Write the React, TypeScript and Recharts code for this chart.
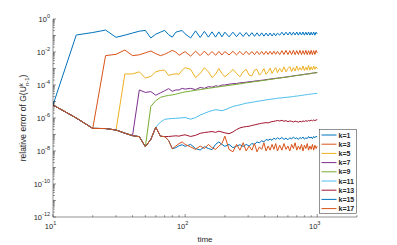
import React from 'react';
import { LineChart, Line, XAxis, YAxis, Legend } from 'recharts';

// sample times (x)
const times = [
  10, 15, 20, 25, 30, 35, 40, 45, 50, 55, 60, 65, 70, 75, 80, 85, 90, 95, 100,
  110, 120, 130, 140, 150, 160, 170, 180, 190, 200,
  215, 230, 245, 260, 275, 290, 305, 320, 335, 350, 365, 380, 395, 410, 425, 440, 455, 470, 485, 500,
  520, 540, 560, 580, 600, 620, 640, 660, 680, 700, 720, 740, 760, 780, 800, 820, 840, 860, 880, 900, 920, 940, 960, 980, 1000,
];

// log10 of the error
// early part that all k share before each one jumps up
const basePath = [-5.21, -6.0, -6.63, -6.64, -6.73, -6.92, -7.07, -7.13, -7.74, -7.3, -6.55, -7.1, -7.13];

const k1Log = [
  ...basePath.slice(0, 1),
  -0.97, -0.82, -0.67, -1.11, -0.98, -0.85, -0.74, -0.69, -1.15, -0.92, -0.8, -0.69, -0.95, -1.1, -0.8, -0.74, -0.7, -0.9,
  -1.15, -0.72, -1.12, -0.75, -1.1, -0.78, -1.1, -0.78, -1.08, -0.8,
  -1.08, -0.8, -1.07, -0.82, -1.06, -0.82, -1.05, -0.83, -1.05, -0.84, -1.04, -0.84, -1.04, -0.85, -1.03, -0.85, -1.03, -0.86, -1.02, -0.86,
  -0.98, -0.8, -0.98, -0.8, -0.97, -0.79, -0.98, -0.8, -0.97, -0.79, -0.98, -0.8, -0.97, -0.79, -0.98, -0.8, -0.97, -0.79, -0.98, -0.8, -0.97, -0.79, -0.98, -0.8, -0.9,
];
const k3Log = [
  ...basePath.slice(0, 3),
  -2.22, -2.14, -1.88, -2.22, -2.17, -2.05, -1.94, -2.1, -2.22, -2.14, -2.02, -1.9, -2.0, -2.2, -2.08, -1.98,
  -2.25, -1.95, -2.22, -1.95, -2.2, -1.97, -2.2, -1.97, -2.18, -1.97,
  -2.18, -1.96, -2.17, -1.97, -2.17, -1.96, -2.16, -1.97, -2.16, -1.96, -2.15, -1.97, -2.15, -1.96, -2.15, -1.96, -2.14, -1.96, -2.14, -1.96,
  -2.16, -1.92, -2.15, -1.9, -2.16, -1.92, -2.15, -1.9, -2.16, -1.92, -2.15, -1.9, -2.16, -1.92, -2.15, -1.9, -2.16, -1.92, -2.15, -1.9, -2.16, -1.92, -2.15, -1.9, -2.05,
];
const k5Log = [
  ...basePath.slice(0, 5),
  -3.33, -3.33, -3.2, -3.58, -3.48, -3.2, -3.12, -3.1, -3.42, -3.36, -3.32, -3.35, -3.1, -2.95,
  -3.05, -3.55, -3.3, -2.95, -3.2, -3.55, -3.35, -3.0, -3.3, -3.5,
  -3.3, -3.05, -3.3, -3.5, -3.2, -3.05, -3.4, -3.45, -3.1, -3.05, -3.4, -3.25, -3.0, -3.35, -3.2, -2.98, -3.3, -3.1, -2.95, -3.25,
  -3.0, -3.22, -2.9, -3.2, -3.0, -2.88, -3.18, -2.95, -3.15, -2.85, -3.12, -2.95, -3.1, -2.85, -3.12, -2.92, -3.1, -2.82, -3.1, -2.9, -3.08, -2.85, -3.05, -2.9, -3.0,
];
const k7Log = [
  ...basePath.slice(0, 7),
  -4.3, -4.45, -4.4, -4.62, -4.48, -4.35, -4.22, -4.38, -4.3, -4.3, -4.2, -4.25,
  -4.2, -4.28, -4.15, -4.2, -4.1, -4.13, -4.05, -4.08, -4.0, -4.0,
  -3.95, -3.92, -3.91, -3.87, -3.85, -3.83, -3.8, -3.79, -3.76, -3.75, -3.73, -3.71, -3.7, -3.67, -3.66, -3.64, -3.62, -3.61, -3.6, -3.58,
  -3.57, -3.55, -3.53, -3.52, -3.5, -3.48, -3.47, -3.45, -3.43, -3.42, -3.41, -3.39, -3.38, -3.37, -3.35, -3.34, -3.33, -3.32, -3.31, -3.29, -3.28, -3.27, -3.26, -3.25, -3.24,
];
const k9Log = [
  ...basePath.slice(0, 9),
  -5.3, -4.95, -4.75, -4.68, -4.63, -4.6, -4.56, -4.5, -4.46, -4.42,
  -4.37, -4.32, -4.28, -4.24, -4.2, -4.17, -4.14, -4.11, -4.08, -4.06,
  -4.02, -3.99, -3.96, -3.93, -3.9, -3.87, -3.85, -3.82, -3.8, -3.78, -3.76, -3.74, -3.72, -3.7, -3.68, -3.66, -3.65, -3.63, -3.61, -3.6,
  -3.58, -3.56, -3.54, -3.53, -3.51, -3.49, -3.48, -3.46, -3.44, -3.43, -3.42, -3.4, -3.39, -3.38, -3.36, -3.35, -3.34, -3.33, -3.32, -3.3, -3.29, -3.28, -3.27, -3.26, -3.25,
];
const k11Log = [
  ...basePath.slice(0, 11),
  -6.25, -6.08, -6.05, -6.03, -6.02, -6.0, -5.99, -5.97,
  -6.07, -5.98, -5.82, -5.72, -5.62, -5.55, -5.5, -5.52, -5.56, -5.5,
  -5.4, -5.3, -5.25, -5.2, -5.15, -5.1, -5.08, -5.05, -5.02, -4.99, -4.97, -4.95, -4.93, -4.9, -4.88, -4.87, -4.85, -4.84, -4.82, -4.8,
  -4.79, -4.78, -4.76, -4.75, -4.74, -4.72, -4.71, -4.7, -4.68, -4.67, -4.66, -4.64, -4.63, -4.62, -4.6, -4.59, -4.58, -4.57, -4.56, -4.55, -4.54, -4.53, -4.52, -4.51, -4.5,
];
const k13Log = [
  ...basePath.slice(0, 13),
  -7.12, -7.1, -7.08, -7.1, -7.05, -7.02,
  -7.12, -7.05, -6.93, -6.88, -6.85, -6.82, -6.87, -6.8, -6.85, -6.9,
  -6.95, -6.85, -6.7, -6.6, -6.55, -6.52, -6.5, -6.45, -6.42, -6.38, -6.35, -6.32, -6.3, -6.28, -6.3, -6.25, -6.22, -6.2, -6.18, -6.15,
  -6.18, -6.14, -6.2, -6.16, -6.22, -6.18, -6.2, -6.24, -6.19, -6.22, -6.25, -6.2, -6.23, -6.18, -6.21, -6.16, -6.2, -6.15, -6.18, -6.13, -6.17, -6.12, -6.16, -6.12, -6.1,
];
const k15Log = [
  ...basePath.slice(0, 13),
  -7.36, -7.86, -7.8, -7.68, -7.62, -7.72,
  -7.6, -7.85, -7.94, -7.74, -7.85, -7.92, -7.6, -7.45, -7.6, -7.72,
  -7.6, -7.8, -7.7, -7.62, -7.72, -7.6, -7.7, -7.55, -7.6, -7.45, -7.5, -7.38, -7.45, -7.3, -7.35, -7.28, -7.35, -7.22, -7.3, -7.2,
  -7.28, -7.18, -7.3, -7.22, -7.32, -7.2, -7.27, -7.15, -7.25, -7.2, -7.3, -7.18, -7.25, -7.15, -7.28, -7.2, -7.25, -7.12, -7.22, -7.15, -7.25, -7.12, -7.2, -7.1, -7.15,
];
const k17Log = [
  ...basePath.slice(0, 13),
  -7.36, -7.86, -7.7, -7.55, -7.45, -7.6,
  -7.75, -7.9, -7.7, -7.85, -7.6, -7.8, -7.9, -7.7, -7.55, -7.1,
  -7.9, -8.05, -7.6, -7.95, -7.5, -8.0, -7.7, -7.95, -7.55, -8.05, -7.75, -7.9, -7.5, -8.0, -7.7, -7.95, -7.6, -7.9, -7.55, -8.0,
  -7.65, -7.95, -7.55, -7.9, -7.7, -8.0, -7.6, -7.85, -7.5, -7.95, -7.7, -7.9, -7.6, -8.0, -7.65, -7.85, -7.55, -7.95, -7.7, -7.9, -7.6, -7.95, -7.65, -7.85, -7.7,
];

const seriesNames = ['k=1', 'k=3', 'k=5', 'k=7', 'k=9', 'k=11', 'k=13', 'k=15', 'k=17'];
const seriesColors = ['#0072BD', '#D95319', '#EDB120', '#7E2F8E', '#77AC30', '#4DBEEE', '#A2142F', '#0072BD', '#D95319'];
const seriesLogs = [k1Log, k3Log, k5Log, k7Log, k9Log, k11Log, k13Log, k15Log, k17Log];

// tick labels (exponents of 10)
const xLabelExps = [1, 2, 3];
const yLabelExps = [0, -2, -4, -6, -8, -10, -12];

const series = seriesNames.map((name, i) => ({ key: 's' + i, name, color: seriesColors[i], log: seriesLogs[i] }));

const data = times.map((t, i) => {
  const row: Record<string, number> = { t };
  series.forEach(s => {
    row[s.key] = Math.pow(10, s.log[i]);
  });
  return row;
});

// log ticks: decades plus 2..9 minors
const logTicks = (lo: number, hi: number) => {
  const out: number[] = [];
  for (let e = lo; e < hi; e++) {
    for (let m = 1; m <= 9; m++) out.push(m * Math.pow(10, e));
  }
  out.push(Math.pow(10, hi));
  return out;
};
const xTicks = [...logTicks(1, 3), 2000];
const yTicks = logTicks(-12, 0);

const axisColor = '#262626';
const font = '"Liberation Sans", Arial, Helvetica, sans-serif';

const expOf = (v: number) => {
  const l = Math.log10(v);
  const e = Math.round(l);
  return { e, major: Math.abs(l - e) < 1e-6 };
};

const XTick = (props: any) => {
  const { x, y, payload, side } = props;
  const { e, major } = expOf(payload.value);
  const len = major ? 3 : 1.8;
  const dir = side === 'bottom' ? -1 : 1;
  return (
    <g>
      <line x1={x} x2={x} y1={y} y2={y + dir * len} stroke={axisColor} strokeWidth={0.5} />
      {side === 'bottom' && major && xLabelExps.includes(e) && (
        <text x={x - 2.5} y={y + 12} textAnchor="middle" fontSize={7.5} fill={axisColor} fontFamily={font}>
          10<tspan dy={-4.3} fontSize={5.5}>{e}</tspan>
        </text>
      )}
    </g>
  );
};

const YTick = (props: any) => {
  const { x, y, payload, side } = props;
  const { e, major } = expOf(payload.value);
  const len = major ? 3 : 1.8;
  const dir = side === 'left' ? 1 : -1;
  return (
    <g>
      <line x1={x} x2={x + dir * len} y1={y} y2={y} stroke={axisColor} strokeWidth={0.5} />
      {side === 'left' && major && yLabelExps.includes(e) && (
        <text x={x - 3} y={y + 2.7} textAnchor="end" fontSize={7.5} fill={axisColor} fontFamily={font}>
          10<tspan dy={-4} fontSize={5.5}>{e}</tspan>
        </text>
      )}
    </g>
  );
};

const YLabel = (props: any) => {
  const vb = props.viewBox || { x: 0, y: 19, width: 53, height: 198 };
  const cx = vb.x + 26;
  const cy = vb.y + vb.height / 2;
  return (
    <text transform={`translate(${cx},${cy}) rotate(-90)`} textAnchor="middle" fontSize={8.5} fill={axisColor} fontFamily={font}>
      relative error of G(U<tspan dy={-3.5} fontSize={6}>k</tspan>
      <tspan dx={-3} dy={6} fontSize={6}>n-1</tspan>
      <tspan dy={-2.5}>)</tspan>
    </text>
  );
};

const LegendBox = () => {
  const w = 37;
  const h = 84;
  return (
    <svg width={w + 1} height={h + 1} style={{ display: 'block' }}>
      <rect x={0.5} y={0.5} width={w} height={h} fill="#fff" stroke={axisColor} strokeWidth={0.5} />
      {series.map((s, i) => {
        const cy = 6 + i * 9.2;
        return (
          <g key={s.key}>
            <line x1={2.5} x2={17.5} y1={cy} y2={cy} stroke={s.color} strokeWidth={1} />
            <text x={19.5} y={cy + 2.5} fontSize={7} fontWeight="bold" fill={axisColor} fontFamily={font}>
              {s.name}
            </text>
          </g>
        );
      })}
    </svg>
  );
};

export default function App() {
  return (
    <div style={{ position: 'absolute', left: 0, top: 0, width: 397, height: 245, background: '#fff' }}>
      <LineChart width={397} height={245} data={data} margin={{ top: 19, right: 40, bottom: 0, left: 0 }}>
        <XAxis
          dataKey="t"
          type="number"
          scale="log"
          domain={[10, 2000]}
          allowDataOverflow
          ticks={xTicks}
          interval={0}
          height={28}
          tickSize={0}
          tickMargin={0}
          tickLine={false}
          axisLine={{ stroke: axisColor, strokeWidth: 0.5 }}
          tick={<XTick side="bottom" />}
          label={{ value: 'time', position: 'insideBottom', offset: 3, fontSize: 8, fill: axisColor, fontFamily: font }}
        />
        <XAxis
          xAxisId="top"
          orientation="top"
          dataKey="t"
          type="number"
          scale="log"
          domain={[10, 2000]}
          allowDataOverflow
          ticks={xTicks}
          interval={0}
          height={0}
          tickSize={0}
          tickMargin={0}
          tickLine={false}
          axisLine={{ stroke: axisColor, strokeWidth: 0.5 }}
          tick={<XTick side="top" />}
        />
        <YAxis
          type="number"
          scale="log"
          domain={[1e-12, 1]}
          allowDataOverflow
          ticks={yTicks}
          interval={0}
          width={53}
          tickSize={0}
          tickMargin={0}
          tickLine={false}
          axisLine={{ stroke: axisColor, strokeWidth: 0.5 }}
          tick={<YTick side="left" />}
          label={{ content: (p: any) => <YLabel {...p} /> }}
        />
        <YAxis
          yAxisId="right"
          orientation="right"
          type="number"
          scale="log"
          domain={[1e-12, 1]}
          allowDataOverflow
          ticks={yTicks}
          interval={0}
          width={0}
          tickSize={0}
          tickMargin={0}
          tickLine={false}
          axisLine={{ stroke: axisColor, strokeWidth: 0.5 }}
          tick={<YTick side="right" />}
        />
        {series.map(s => (
          <Line
            key={s.key}
            dataKey={s.key}
            name={s.name}
            stroke={s.color}
            strokeWidth={1}
            dot={false}
            activeDot={false}
            type="linear"
            isAnimationActive={false}
          />
        ))}
        <Legend
          layout="vertical"
          align="center"
          verticalAlign="middle"
          content={() => <LegendBox />}
          wrapperStyle={{ position: 'absolute', left: 319, top: 129, width: 38, height: 85 }}
        />
      </LineChart>
    </div>
  );
}
